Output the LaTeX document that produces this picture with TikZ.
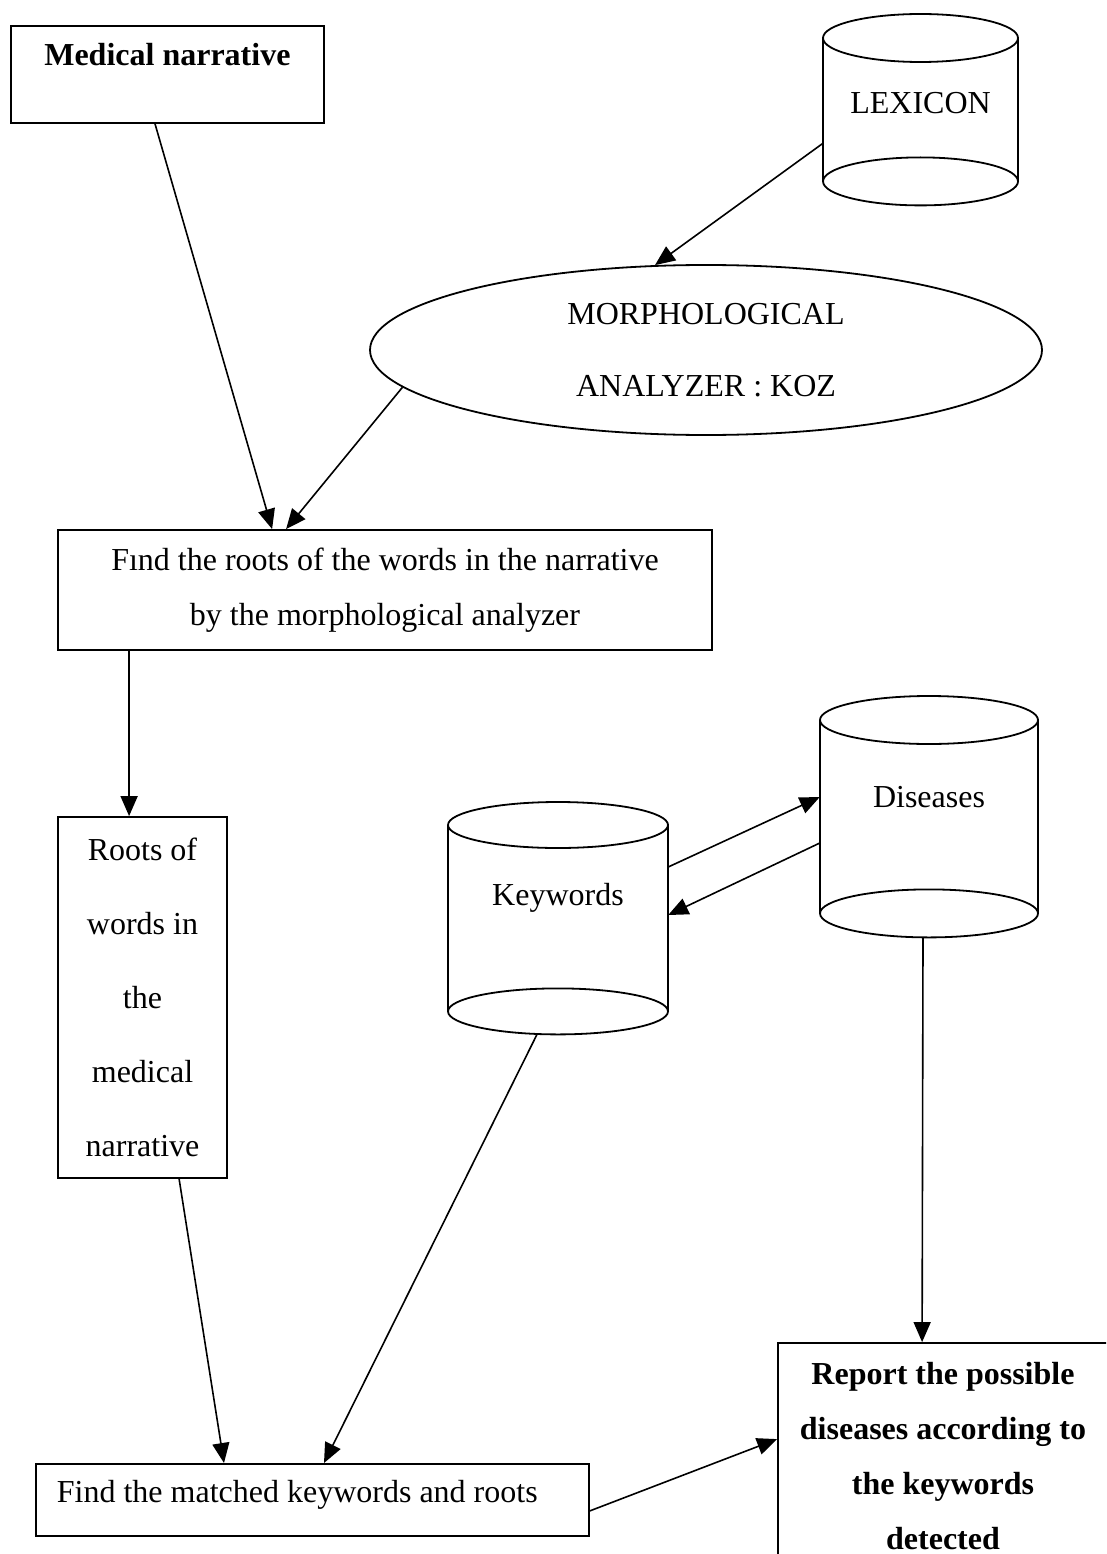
\documentclass[tikz,border=0pt]{standalone}
\usepackage{fontspec}
\setmainfont{Liberation Serif}
\usetikzlibrary{shapes.geometric,arrows.meta,calc}

\begin{document}
\begin{tikzpicture}[x=1pt, y=-1pt,
    box/.style={draw, line width=1.8pt, inner sep=0pt},
    store/.style={inner sep=0pt, anchor=north},
    wall/.style={line width=1.8pt},
    arr/.style={line width=1.6pt, -{Triangle[length=20pt,width=17pt]}},
    txt/.style={font=\fontsize{32pt}{55pt}\selectfont}]

    \useasboundingbox (0,0) rectangle (1106,1554);
    \clip (0,0) rectangle (1106,1554);

    % Process boxes
    \node[box, font=\fontsize{32pt}{40pt}\selectfont\bfseries, anchor=north west,
          minimum width=313pt, text height=40pt, text depth=57pt] (med) at (10,25) {Medical narrative};
    \node[box, txt, align=center, minimum width=654pt, minimum height=120pt] (find) at (385,590)
          {Fınd the roots of the words in the narrative\\by the morphological analyzer};
    \node[box, align=center, font=\fontsize{32pt}{74pt}\selectfont,
          minimum width=169pt, minimum height=361pt] (roots) at (142.5,997.5)
          {Roots of\\words in\\the\\medical\\narrative};
    \node[box, txt, anchor=north west, inner xsep=21pt, text height=39pt, text depth=33pt] (match) at (35,1463)
          {\makebox[511pt][l]{Find the matched keywords and roots}};
    \node[box, align=center, font=\fontsize{32pt}{55pt}\selectfont\bfseries,
          minimum width=330pt, minimum height=227pt] (report) at (943,1456.5)
          {Report the possible\\diseases according to\\the keywords\\detected};

    % Analyzer
    \node[draw, ellipse, line width=1.8pt, inner sep=0pt, align=center, font=\fontsize{32pt}{72pt}\selectfont,
          minimum width=672pt, minimum height=170pt] (morph) at (706,350) {MORPHOLOGICAL\\ANALYZER : KOZ};

    % Databases
    \node[store, txt, minimum width=195pt, text height=75pt, text depth=68pt] (lex) at (920.5,38) {LEXICON};
    \node[store, txt, minimum width=220pt, text height=80pt, text depth=106pt] (kw) at (558,825) {Keywords};
    \node[store, txt, minimum width=218pt, text height=87pt, text depth=106pt] (dis) at (929,720) {Diseases};

    \foreach \s/\rx/\ry in {lex/97.5/24, kw/110/23, dis/109/24} {
        \draw[wall] (\s.north west) -- (\s.south west) (\s.north east) -- (\s.south east);
        \draw[wall] (\s.north) ellipse [x radius=\rx pt, y radius=\ry pt]
                    (\s.south) ellipse [x radius=\rx pt, y radius=\ry pt];
    }

    % Connectors
    \draw[arr] ([xshift=145pt]med.south west) -- ([xshift=215pt]find.north west);
    \draw[arr] (morph.187) -- ([xshift=229pt]find.north west);
    \draw[arr] ([yshift=38pt]lex.south west) -- (morph.121);
    \draw[arr] ([xshift=72pt]find.south west) -- ([xshift=72pt]roots.north west);
    \draw[arr] ([xshift=122pt]roots.south west) -- ([xshift=189pt]match.north west);
    \draw[arr] ([xshift=-21pt,yshift=-23pt]kw.south) -- ([xshift=289pt]match.north west);
    \draw[arr] ([yshift=-42pt]kw.north east) -- ([yshift=-77pt]dis.north west);
    \draw[arr] ([yshift=-123pt]dis.north west) -- ([yshift=-90pt]kw.north east);
    \draw[arr] ([xshift=-6pt,yshift=-24pt]dis.south) -- ([xshift=145pt]report.north west);
    \draw[arr] ([yshift=-11pt]match.east) -- ([yshift=-97pt]report.north west);

\end{tikzpicture}
\end{document}
